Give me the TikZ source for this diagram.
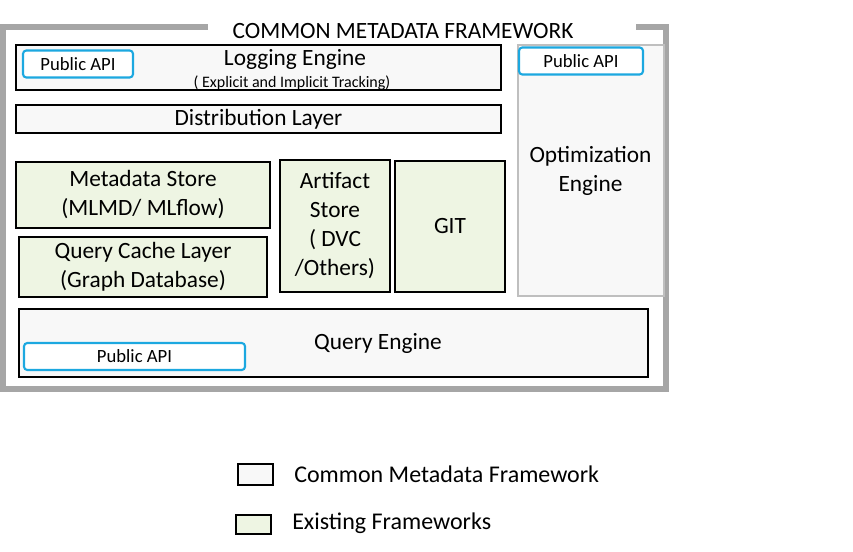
\documentclass[tikz,border=0pt]{standalone}
\usepackage{fontspec}
\setmainfont{Carlito}
\definecolor{framegray}{HTML}{A6A6A6}
\definecolor{optgray}{HTML}{BFBFBF}
\definecolor{cmffill}{HTML}{F8F8F8}
\definecolor{exfill}{HTML}{EEF5E3}
\definecolor{apicyan}{HTML}{1CA8E0}
\begin{document}
\begin{tikzpicture}[x=0.75pt,y=-0.75pt,
  sz/.style 2 args={minimum width=#1*0.75pt,minimum height=#2*0.75pt},
  mainfont/.style={font=\fontsize{17.5}{21.75}\selectfont},
  cmfbox/.style={draw=black,line width=1.5pt,fill=cmffill,inner sep=0pt,align=center,mainfont},
  exbox/.style={draw=black,line width=1.5pt,fill=exfill,inner sep=0pt,align=center,mainfont},
  apibox/.style={draw=apicyan,line width=1.6pt,fill=white,rounded corners=2.5pt,inner sep=0pt,font=\fontsize{14}{16}\selectfont},
  txt/.style={inner sep=0pt,align=center,mainfont},
  legtxt/.style={inner sep=0pt,anchor=west,font=\fontsize{18}{20}\selectfont}]
\useasboundingbox (0,0) rectangle (853,552);
% outer frame
\draw[framegray,line width=3.8pt] (208,27) -- (3,27) -- (3,389) -- (666,389) -- (666,27) -- (636,27);
\node[txt,font=\fontsize{17.5}{19}\selectfont] (title) at (403,31) {COMMON METADATA FRAMEWORK};
% optimization engine
\node[draw=optgray,line width=1.5pt,fill=cmffill,inner sep=0pt,sz={146}{251},align=center,mainfont] (opt) at (590.5,170.5) {Optimization\\Engine};
\node[apibox,sz={124}{27}] (optapi) at (581,61) {Public API};
% logging engine
\node[cmfbox,sz={485}{45}] (log) at (258.5,67.5) {};
\node[txt] (logt) at (295,59) {Logging Engine};
\node[txt,font=\fontsize{12}{13}\selectfont] (logs) at (292,83) {( Explicit and Implicit Tracking)};
\node[apibox,sz={110}{27}] (logapi) at (78,64) {Public API};
% distribution layer
\node[cmfbox,sz={485}{28}] (dist) at (258.5,119) {Distribution Layer};
% existing frameworks
\node[exbox,sz={254}{66}] (mds) at (143,195) {Metadata Store\\(MLMD/ MLflow)};
\node[exbox,sz={248}{60}] (qcl) at (143,267) {Query Cache Layer\\(Graph Database)};
\node[exbox,sz={110}{132}] (art) at (335,226) {Artifact\\Store\\( DVC\\/Others)};
\node[exbox,sz={110}{131}] (git) at (450,226.5) {GIT};
% query engine
\node[cmfbox,sz={629}{68}] (qe) at (333.5,343) {};
\node[txt] (qet) at (378,343) {Query Engine};
\node[apibox,sz={221}{27}] (qeapi) at (134.5,356.5) {Public API};
% legend
\node[cmfbox,sz={35}{21}] (leg1) at (255.5,474.5) {};
\node[legtxt] (leg1t) at (294,474) {Common Metadata Framework};
\node[exbox,sz={35}{19}] (leg2) at (253.5,524.5) {};
\node[legtxt] (leg2t) at (292,523) {Existing Frameworks};
\end{tikzpicture}
\end{document}
